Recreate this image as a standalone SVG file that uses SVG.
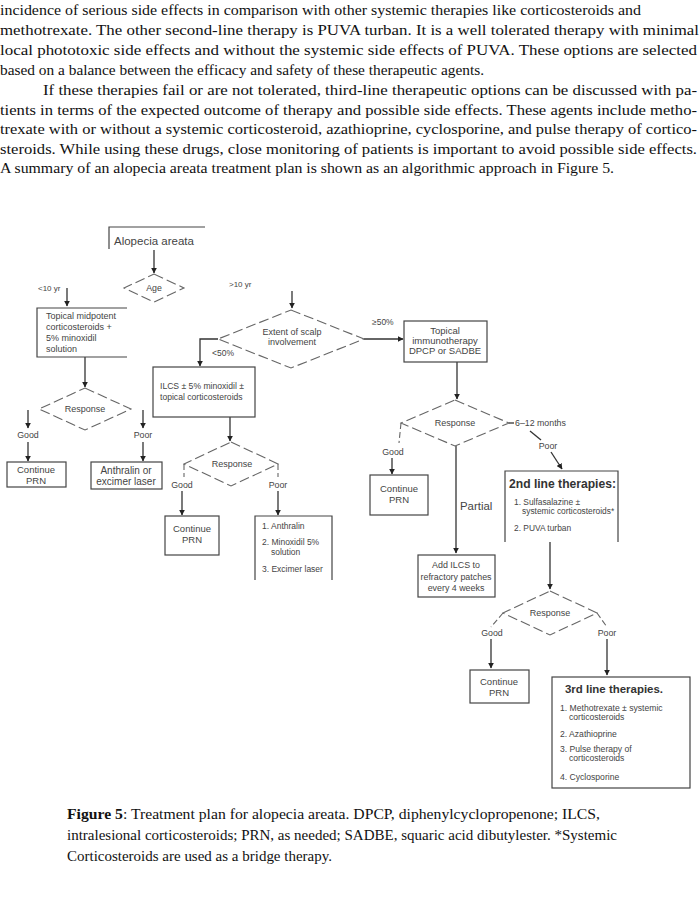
<svg xmlns="http://www.w3.org/2000/svg" width="700" height="924" viewBox="0 0 700 924">
<style>
.body{font-family:"Liberation Serif","Times New Roman",serif;font-size:15px;fill:#111}
.cap{font-family:"Liberation Serif","Times New Roman",serif;font-size:14px;fill:#111}
.t{font-family:"Liberation Sans",Arial,sans-serif;font-size:8.8px;fill:#444}
.c{text-anchor:middle}
.box{fill:none;stroke:#444;stroke-width:1.2}
.dia{fill:none;stroke:#666;stroke-width:1.1;stroke-dasharray:10 4}
.ln{fill:none;stroke:#333;stroke-width:1.3}
.dl{fill:none;stroke:#666;stroke-width:1.1;stroke-dasharray:6 3}
.ar{fill:none;stroke:#333;stroke-width:1.3;marker-end:url(#ah)}
</style>
<defs>
<marker id="ah" viewBox="0 0 10 10" refX="9" refY="5" markerWidth="6" markerHeight="6" orient="auto" markerUnits="userSpaceOnUse">
<path d="M0,0 L10,5 L0,10 Z" fill="#222"/>
</marker>
</defs>
<rect width="700" height="924" fill="#fff"/>

<g id="bodytext">
<text class="body" x="0" y="15" textLength="641" lengthAdjust="spacingAndGlyphs">incidence of serious side effects in comparison with other systemic therapies like corticosteroids and</text>
<text class="body" x="0" y="35" textLength="699" lengthAdjust="spacingAndGlyphs">methotrexate. The other second-line therapy is PUVA turban. It is a well tolerated therapy with minimal</text>
<text class="body" x="0" y="55" textLength="697" lengthAdjust="spacingAndGlyphs">local phototoxic side effects and without the systemic side effects of PUVA. These options are selected</text>
<text class="body" x="0" y="75" textLength="484" lengthAdjust="spacingAndGlyphs">based on a balance between the efficacy and safety of these therapeutic agents.</text>
<text class="body" x="43" y="95" textLength="654" lengthAdjust="spacingAndGlyphs">If these therapies fail or are not tolerated, third-line therapeutic options can be discussed with pa-</text>
<text class="body" x="0" y="115" textLength="697" lengthAdjust="spacingAndGlyphs">tients in terms of the expected outcome of therapy and possible side effects. These agents include metho-</text>
<text class="body" x="0" y="134" textLength="697" lengthAdjust="spacingAndGlyphs">trexate with or without a systemic corticosteroid, azathioprine, cyclosporine, and pulse therapy of cortico-</text>
<text class="body" x="0" y="154" textLength="697" lengthAdjust="spacingAndGlyphs">steroids. While using these drugs, close monitoring of patients is important to avoid possible side effects.</text>
<text class="body" x="0" y="173" textLength="614" lengthAdjust="spacingAndGlyphs">A summary of an alopecia areata treatment plan is shown as an algorithmic approach in Figure 5.</text>
</g>

<g id="connectors">
<path class="ar" d="M154,250 V273"/>
<path class="ar" d="M67,288 V306"/>
<path class="ar" d="M292,291 V308"/>
<path class="ar" d="M85,357 V387"/>
<path class="ar" d="M28,410 V428"/>
<path class="ar" d="M28,442 V461"/>
<path class="ar" d="M143,410 V428"/>
<path class="ar" d="M143,442 V461"/>
<path class="ar" d="M364,339 H403"/>
<path class="ar" d="M218,339 H200 V366"/>
<path class="ar" d="M230,417 V441"/>
<path class="dl" d="M184,464 V477"/>
<path class="ar" d="M182,491 V515"/>
<path class="dl" d="M278,464 V477"/>
<path class="ar" d="M278,491 V515"/>
<path class="ar" d="M457,362 V399"/>
<path class="dl" d="M401,423 L399,443"/>
<path class="ar" d="M392,458 V474"/>
<path class="ar" d="M456,446 V553"/>
<path class="ln" d="M509,423 H514"/>
<path class="ln" d="M530,431 L541,440"/>
<path class="ar" d="M551,452 L562,469"/>
<path class="ar" d="M550,542 V589"/>
<path class="dl" d="M503,613 L491,627"/>
<path class="ar" d="M491,639 V668"/>
<path class="dl" d="M597,613 L607,627"/>
<path class="ar" d="M607,639 V675"/>
</g>

<g id="labels">
<text class="t" x="38" y="291" style="font-size:8px">&lt;10 yr</text>
<text class="t" x="229" y="287" style="font-size:8px">&gt;10 yr</text>
<text class="t" x="372" y="325" style="font-size:8.5px">≥50%</text>
<text class="t" x="212" y="356" style="font-size:8.5px">&lt;50%</text>
<text class="t c" x="28" y="438">Good</text>
<text class="t c" x="143" y="438">Poor</text>
<text class="t c" x="182" y="488">Good</text>
<text class="t c" x="278" y="488">Poor</text>
<text class="t c" x="393" y="455">Good</text>
<text class="t" x="515" y="426">6–12 months</text>
<text class="t c" x="548" y="449">Poor</text>
<text class="t" x="460" y="510" style="font-size:11.4px">Partial</text>
<text class="t c" x="492" y="636">Good</text>
<text class="t c" x="607" y="636">Poor</text>
</g>

<g id="n-alopecia">
<path class="box" d="M205,227 H109 V249"/>
<text class="t" x="114" y="245" style="font-size:11.5px">Alopecia areata</text>
</g>
<g id="n-age">
<path class="dia" d="M154,274 L184,288 L154,302 L124,288 Z"/>
<text class="t c" x="154" y="291">Age</text>
</g>
<g id="n-topical-midpotent">
<path class="box" d="M127,308 H37 V357 H127"/>
<text class="t" x="46" y="319" style="font-size:9px">Topical midpotent</text>
<text class="t" x="46" y="330" style="font-size:9px">corticosteroids +</text>
<text class="t" x="46" y="341" style="font-size:9px">5% minoxidil</text>
<text class="t" x="46" y="352" style="font-size:9px">solution</text>
</g>
<g id="n-response1">
<path class="dia" d="M85,388 L131,409 L85,430 L39,409 Z"/>
<text class="t c" x="85" y="412" style="font-size:9px">Response</text>
</g>
<g id="n-continue1">
<rect class="box" x="7" y="462" width="59" height="25"/>
<text class="t c" x="36" y="473" style="font-size:9.5px">Continue</text>
<text class="t c" x="36" y="484" style="font-size:9.5px">PRN</text>
</g>
<g id="n-anthralin">
<rect class="box" x="91" y="462" width="71" height="27"/>
<text class="t c" x="126" y="474" style="font-size:10px">Anthralin or</text>
<text class="t c" x="126" y="485" style="font-size:10px">excimer laser</text>
</g>
<g id="n-extent">
<path class="dia" d="M291,310 L364,339 L291,368 L218,339 Z"/>
<text class="t c" x="292" y="335" style="font-size:9px">Extent of scalp</text>
<text class="t c" x="292" y="345" style="font-size:9px">involvement</text>
</g>
<g id="n-ilcs">
<rect class="box" x="153" y="367" width="102" height="50"/>
<text class="t" x="160" y="389" style="font-size:8.6px">ILCS ± 5% minoxidil ±</text>
<text class="t" x="160" y="400" style="font-size:8.6px">topical corticosteroids</text>
</g>
<g id="n-response2">
<path class="dia" d="M231,442 L278,464 L231,486 L184,464 Z"/>
<text class="t c" x="232" y="467" style="font-size:9px">Response</text>
</g>
<g id="n-continue2">
<rect class="box" x="165" y="516" width="54" height="39"/>
<text class="t c" x="192" y="532" style="font-size:9.5px">Continue</text>
<text class="t c" x="192" y="543" style="font-size:9.5px">PRN</text>
</g>
<g id="n-list1">
<path class="box" d="M255,580 V516 H332 V580"/>
<text class="t" x="262" y="529" style="font-size:8.5px">1. Anthralin</text>
<text class="t" x="262" y="545" style="font-size:8.5px">2. Minoxidil 5%</text>
<text class="t" x="271" y="555" style="font-size:8.5px">solution</text>
<text class="t" x="262" y="572" style="font-size:8.5px">3. Excimer laser</text>
</g>
<g id="n-immuno">
<rect class="box" x="404" y="321" width="83" height="41"/>
<text class="t c" x="445" y="334" style="font-size:9.5px">Topical</text>
<text class="t c" x="445" y="344" style="font-size:9.5px">immunotherapy</text>
<text class="t c" x="445" y="354" style="font-size:9.5px">DPCP or SADBE</text>
</g>
<g id="n-response3">
<path class="dia" d="M455,400 L509,423 L455,446 L401,423 Z"/>
<text class="t c" x="455" y="426" style="font-size:9px">Response</text>
</g>
<g id="n-continue3">
<rect class="box" x="370" y="475" width="58" height="40"/>
<text class="t c" x="399" y="492" style="font-size:9.5px">Continue</text>
<text class="t c" x="399" y="503" style="font-size:9.5px">PRN</text>
</g>
<g id="n-add-ilcs">
<rect class="box" x="418" y="555" width="77" height="42"/>
<text class="t c" x="456" y="568" style="font-size:8.9px">Add ILCS to</text>
<text class="t c" x="456" y="580" style="font-size:8.9px">refractory patches</text>
<text class="t c" x="456" y="591" style="font-size:8.9px">every 4 weeks</text>
</g>
<g id="n-2nd-line">
<path class="box" d="M505,542 V471 H618 V542"/>
<text class="t" x="509" y="488" textLength="107" lengthAdjust="spacingAndGlyphs" style="font-size:12.5px;font-weight:bold;fill:#333">2nd line therapies:</text>
<text class="t" x="514" y="505" style="font-size:8.4px">1. Sulfasalazine ±</text>
<text class="t" x="522" y="514" style="font-size:8.4px">systemic corticosteroids*</text>
<text class="t" x="514" y="531" style="font-size:8.4px">2. PUVA turban</text>
</g>
<g id="n-response4">
<path class="dia" d="M550,591 L597,613 L550,635 L503,613 Z"/>
<text class="t c" x="550" y="616" style="font-size:9px">Response</text>
</g>
<g id="n-continue4">
<rect class="box" x="470" y="670" width="59" height="33"/>
<text class="t c" x="499" y="685" style="font-size:9.5px">Continue</text>
<text class="t c" x="499" y="696" style="font-size:9.5px">PRN</text>
</g>
<g id="n-3rd-line">
<rect class="box" x="552" y="677" width="138" height="111"/>
<text class="t" x="565" y="693" textLength="98" lengthAdjust="spacingAndGlyphs" style="font-size:11px;font-weight:bold;fill:#333">3rd line therapies.</text>
<text class="t" x="560" y="711" style="font-size:8.6px">1. Methotrexate ± systemic</text>
<text class="t" x="569" y="720" style="font-size:8.6px">corticosteroids</text>
<text class="t" x="560" y="737" style="font-size:8.6px">2. Azathioprine</text>
<text class="t" x="560" y="752" style="font-size:8.6px">3. Pulse therapy of</text>
<text class="t" x="569" y="761" style="font-size:8.6px">corticosteroids</text>
<text class="t" x="560" y="780" style="font-size:8.6px">4. Cyclosporine</text>
</g>

<g id="caption">
<text class="cap" x="67" y="819" textLength="533" lengthAdjust="spacingAndGlyphs"><tspan font-weight="bold">Figure 5</tspan>: Treatment plan for alopecia areata. DPCP, diphenylcyclopropenone; ILCS,</text>
<text class="cap" x="67" y="840" textLength="550" lengthAdjust="spacingAndGlyphs">intralesional corticosteroids; PRN, as needed; SADBE, squaric acid dibutylester. *Systemic</text>
<text class="cap" x="67" y="861" textLength="265" lengthAdjust="spacingAndGlyphs">Corticosteroids are used as a bridge therapy.</text>
</g>
</svg>
